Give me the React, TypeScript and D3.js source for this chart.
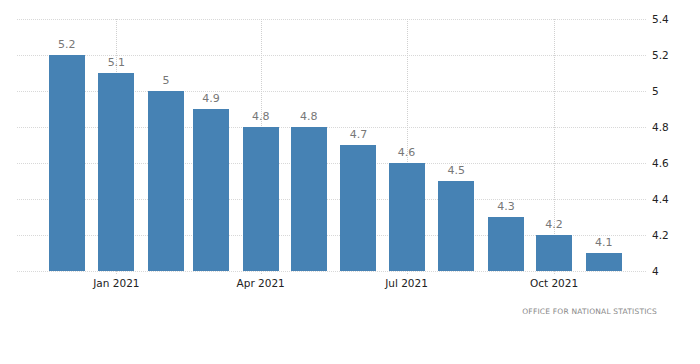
import React, { useEffect, useRef } from "react";
import * as d3 from "d3";

const months = [
  "2020-12-01", "2021-01-01", "2021-02-01", "2021-03-01", "2021-04-01", "2021-05-01",
  "2021-06-01", "2021-07-01", "2021-08-01", "2021-09-01", "2021-10-01", "2021-11-01",
];
const rates = [5.2, 5.1, 5.0, 4.9, 4.8, 4.8, 4.7, 4.6, 4.5, 4.3, 4.2, 4.1];
const yTicks = [4, 4.2, 4.4, 4.6, 4.8, 5, 5.2, 5.4];
const xTickDates = ["2021-01-01", "2021-04-01", "2021-07-01", "2021-10-01"];
const sourceText = "OFFICE FOR NATIONAL STATISTICS";

const W = 700;
const H = 364;

export default function App() {
  const svgRef = useRef<SVGSVGElement>(null);

  useEffect(() => {
    const svg = d3.select(svgRef.current);
    svg.selectAll("*").remove();

    const parse = d3.utcParse("%Y-%m-%d");
    const data = months.map((m, i) => ({ date: parse(m)!, value: rates[i] }));

    const x = d3
      .scaleUtc()
      .domain([parse("2020-10-31")!, parse("2021-11-28")!])
      .range([17, 647]);
    const y = d3.scaleLinear().domain([4, 5.4]).range([271, 19]);

    const grid = svg.append("g");
    grid
      .selectAll("line.h")
      .data(yTicks)
      .join("line")
      .attr("x1", 17)
      .attr("x2", 647)
      .attr("y1", (d) => y(d) + 0.5)
      .attr("y2", (d) => y(d) + 0.5)
      .attr("stroke", "#d8d8d8")
      .attr("stroke-dasharray", "1,1");

    const tickDates = xTickDates.map((t) => parse(t)!);
    grid
      .selectAll("line.v")
      .data(tickDates)
      .join("line")
      .attr("x1", (d) => Math.round(x(d)) + 0.5)
      .attr("x2", (d) => Math.round(x(d)) + 0.5)
      .attr("y1", y(5.4))
      .attr("y2", y(4) + 4)
      .attr("stroke", "#d0d0d0")
      .attr("stroke-dasharray", "1,1");

    const barW = 36;
    svg
      .selectAll("rect.bar")
      .data(data)
      .join("rect")
      .attr("x", (d) => Math.round(x(d.date) - barW / 2))
      .attr("y", (d) => y(d.value))
      .attr("width", barW)
      .attr("height", (d) => y(4) - y(d.value))
      .attr("fill", "#4682b4");

    svg
      .selectAll("text.val")
      .data(data)
      .join("text")
      .attr("x", (d) => x(d.date))
      .attr("y", (d) => y(d.value) - 7)
      .attr("text-anchor", "middle")
      .attr("font-family", "DejaVu Sans, sans-serif")
      .attr("font-size", 11)
      .attr("fill", "#777")
      .text((d) => d3.format("")(d.value));

    svg
      .selectAll("text.xt")
      .data(tickDates)
      .join("text")
      .attr("x", (d) => x(d))
      .attr("y", 287)
      .attr("text-anchor", "middle")
      .attr("font-family", "DejaVu Sans, sans-serif")
      .attr("font-size", 10.5)
      .attr("fill", "#222")
      .text((d) => d3.utcFormat("%b %Y")(d));

    svg
      .selectAll("text.yt")
      .data(yTicks)
      .join("text")
      .attr("x", 652)
      .attr("y", (d) => y(d) + 4)
      .attr("font-family", "DejaVu Sans, sans-serif")
      .attr("font-size", 10.5)
      .attr("fill", "#222")
      .text((d) => d3.format("")(d));

    svg
      .append("text")
      .attr("x", 657)
      .attr("y", 314)
      .attr("text-anchor", "end")
      .attr("font-family", "DejaVu Sans, sans-serif")
      .attr("font-size", 7.5)
      .attr("letter-spacing", 0.2)
      .attr("fill", "#888")
      .text(sourceText);
  }, []);

  return (
    <svg
      ref={svgRef}
      width={W}
      height={H}
      style={{ position: "absolute", left: 0, top: 0, background: "#fff" }}
    />
  );
}
